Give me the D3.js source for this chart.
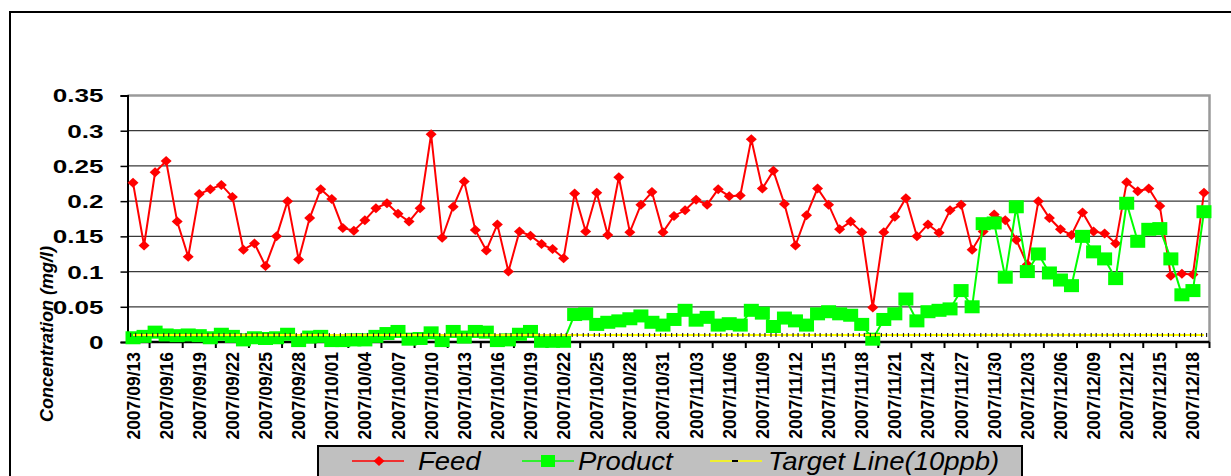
<!DOCTYPE html>
<html>
<head>
<meta charset="utf-8">
<script src="https://cdn.jsdelivr.net/npm/d3@7"></script>
<style>
  html, body { margin: 0; padding: 0; background: #fff; }
  svg { display: block; font-family: Arial, "Liberation Sans", sans-serif; }
</style>
</head>
<body>
<svg id="chart" width="1231" height="476"></svg>
<script>
// daily sample dates
const dates = [
  "2007/09/13","2007/09/14","2007/09/15","2007/09/16","2007/09/17","2007/09/18","2007/09/19","2007/09/20","2007/09/21","2007/09/22",
  "2007/09/23","2007/09/24","2007/09/25","2007/09/26","2007/09/27","2007/09/28","2007/09/29","2007/09/30","2007/10/01","2007/10/02",
  "2007/10/03","2007/10/04","2007/10/05","2007/10/06","2007/10/07","2007/10/08","2007/10/09","2007/10/10","2007/10/11","2007/10/12",
  "2007/10/13","2007/10/14","2007/10/15","2007/10/16","2007/10/17","2007/10/18","2007/10/19","2007/10/20","2007/10/21","2007/10/22",
  "2007/10/23","2007/10/24","2007/10/25","2007/10/26","2007/10/27","2007/10/28","2007/10/29","2007/10/30","2007/10/31","2007/11/01",
  "2007/11/02","2007/11/03","2007/11/04","2007/11/05","2007/11/06","2007/11/07","2007/11/08","2007/11/09","2007/11/10","2007/11/11",
  "2007/11/12","2007/11/13","2007/11/14","2007/11/15","2007/11/16","2007/11/17","2007/11/18","2007/11/19","2007/11/20","2007/11/21",
  "2007/11/22","2007/11/23","2007/11/24","2007/11/25","2007/11/26","2007/11/27","2007/11/28","2007/11/29","2007/11/30","2007/12/01",
  "2007/12/02","2007/12/03","2007/12/04","2007/12/05","2007/12/06","2007/12/07","2007/12/08","2007/12/09","2007/12/10","2007/12/11",
  "2007/12/12","2007/12/13","2007/12/14","2007/12/15","2007/12/16","2007/12/17","2007/12/18","2007/12/19"
];

const feed = [
  0.226,0.137,0.241,0.257,0.171,0.121,0.210,0.217,0.223,0.206,
  0.131,0.140,0.108,0.150,0.200,0.117,0.176,0.217,0.203,0.162,
  0.158,0.173,0.190,0.197,0.182,0.171,0.190,0.295,0.148,0.192,
  0.228,0.159,0.130,0.167,0.100,0.157,0.151,0.139,0.132,0.119,
  0.211,0.157,0.212,0.152,0.234,0.156,0.195,0.213,0.156,0.179,
  0.187,0.202,0.195,0.217,0.207,0.208,0.288,0.218,0.243,0.196,
  0.137,0.180,0.218,0.195,0.160,0.171,0.156,0.049,0.156,0.178,
  0.204,0.150,0.167,0.155,0.187,0.195,0.131,0.157,0.181,0.173,
  0.145,0.110,0.200,0.176,0.160,0.152,0.184,0.157,0.154,0.140,
  0.227,0.214,0.218,0.193,0.094,0.097,0.096,0.212
];

const product = [
  0.006,0.008,0.014,0.010,0.009,0.010,0.009,0.006,0.011,0.008,
  0.003,0.006,0.005,0.006,0.011,0.002,0.007,0.008,0.002,0.002,
  0.003,0.003,0.008,0.012,0.015,0.004,0.005,0.013,0.002,0.015,
  0.007,0.015,0.014,0.002,0.003,0.011,0.015,0.001,0.001,0.001,
  0.039,0.040,0.025,0.028,0.030,0.033,0.037,0.028,0.024,0.032,
  0.045,0.031,0.035,0.024,0.026,0.024,0.045,0.041,0.022,0.034,
  0.030,0.024,0.040,0.043,0.040,0.038,0.025,0.004,0.032,0.040,
  0.061,0.030,0.043,0.045,0.047,0.073,0.050,0.168,0.169,0.092,
  0.192,0.100,0.125,0.098,0.088,0.080,0.150,0.128,0.118,0.090,
  0.197,0.143,0.160,0.161,0.118,0.067,0.073,0.185
];

const target = dates.map(() => 0.01);   // 10 ppb target line

const yTicks = [0, 0.05, 0.1, 0.15, 0.2, 0.25, 0.3, 0.35];
const yTickLabels = ["0", "0.05", "0.1", "0.15", "0.2", "0.25", "0.3", "0.35"];
const legendNames = ["Feed", "Product", "Target Line(10ppb)"];

const svg = d3.select("#chart");

// outer chart frame
svg.append("path")
  .attr("d", "M10,480 L10,12 L1240,12")
  .attr("fill", "none").attr("stroke", "#000").attr("stroke-width", 2);

const plot = { left: 127.5, right: 1209.5, top: 95.5, bottom: 342 };

const x = d3.scaleBand()
  .domain(d3.range(dates.length))
  .range([plot.left, plot.right]);
const cx = i => x(i) + x.bandwidth() / 2;

const y = d3.scaleLinear()
  .domain([0, 0.35])
  .range([plot.bottom, plot.top]);

// gridlines
svg.append("g")
  .selectAll("line")
  .data(yTicks.filter(d => d > 0 && d < 0.35))
  .enter()
  .append("line")
    .attr("x1", plot.left).attr("x2", plot.right)
    .attr("y1", d => y(d)).attr("y2", d => y(d))
    .attr("stroke", "#3a3a3a").attr("stroke-width", 1.2);

// plot area border (top + right, grey)
svg.append("path")
  .attr("d", `M${plot.left},${y(0.35)} L${plot.right},${y(0.35)} L${plot.right},${plot.bottom}`)
  .attr("fill", "none").attr("stroke", "#9a9a9a").attr("stroke-width", 2.5);

// Y axis
const yAxis = svg.append("g")
  .attr("transform", `translate(${plot.left},0)`)
  .call(d3.axisLeft(y).tickValues(yTicks).tickSize(7).tickFormat((d, i) => yTickLabels[i]));
yAxis.select(".domain").attr("stroke", "#000").attr("stroke-width", 2);
yAxis.selectAll(".tick line").attr("stroke", "#000").attr("stroke-width", 1.5);
yAxis.selectAll(".tick text").remove();
yAxis.selectAll(".tick")
  .append("text")
    .attr("transform", "translate(-24,0) scale(1.45,1)")
    .attr("text-anchor", "end")
    .attr("dy", "0.36em")
    .attr("fill", "#000")
    .style("font-size", "18px")
    .style("font-weight", "bold")
    .text((d, i) => yTickLabels[i]);

// X axis: ticks between categories every 3 days, labels every 3 days
const labelIdx = d3.range(0, dates.length, 3);
const xAxis = svg.append("g")
  .attr("transform", `translate(0,${plot.bottom})`);
xAxis.append("line")
  .attr("x1", plot.left).attr("x2", plot.right)
  .attr("stroke", "#000").attr("stroke-width", 2.5);
xAxis.selectAll("line.tk")
  .data(labelIdx)
  .enter()
  .append("line")
    .attr("class", "tk")
    .attr("x1", i => x(i) + x.step() * 2)
    .attr("x2", i => x(i) + x.step() * 2)
    .attr("y1", 0).attr("y2", 6)
    .attr("stroke", "#000").attr("stroke-width", 2);
xAxis.selectAll("text")
  .data(labelIdx)
  .enter()
  .append("text")
    .attr("transform", i => `translate(${cx(i) + 6.5},10) rotate(-90)`)
    .attr("text-anchor", "end")
    .style("font-size", "17.5px")
    .style("font-weight", "bold")
    .text(i => dates[i]);

// Y axis title
svg.append("text")
  .attr("transform", "translate(53,334) rotate(-90)")
  .attr("text-anchor", "middle")
  .style("font-size", "18px")
  .style("font-weight", "bold")
  .style("font-style", "italic")
  .text("Concentration (mg/l)");

// Feed series
const line = d3.line().x((d, i) => cx(i)).y(d => y(d));
svg.append("path")
  .datum(feed)
  .attr("d", line)
  .attr("fill", "none").attr("stroke", "#ff0000").attr("stroke-width", 2);
const diamond = "M0,-5 L5.5,0 L0,5 L-5.5,0 Z";
svg.append("g")
  .selectAll("path")
  .data(feed)
  .enter()
  .append("path")
    .attr("transform", (d, i) => `translate(${cx(i)},${y(d)})`)
    .attr("d", diamond)
    .attr("fill", "#ff0000");

// Product series
svg.append("path")
  .datum(product)
  .attr("d", line)
  .attr("fill", "none").attr("stroke", "#00ff00").attr("stroke-width", 2);
svg.append("g")
  .selectAll("rect")
  .data(product)
  .enter()
  .append("rect")
    .attr("x", (d, i) => cx(i) - 7.5)
    .attr("y", d => y(d) - 6.5)
    .attr("width", 15).attr("height", 13)
    .attr("fill", "#00ff00");

// Target line with small dash markers
svg.append("path")
  .datum(target)
  .attr("d", line)
  .attr("fill", "none").attr("stroke", "#ffff00").attr("stroke-width", 2);
const tg = svg.append("g");
[-3, 2].forEach(off => {
  tg.append("g")
    .selectAll("rect")
    .data(target)
    .enter()
    .append("rect")
      .attr("x", (d, i) => cx(i) + off)
      .attr("y", d => y(d) - 2)
      .attr("width", 1.2).attr("height", 4)
      .attr("fill", "#222");
});

// Legend
const lg = svg.append("g");
lg.append("rect")
  .attr("x", 318).attr("y", 446).attr("width", 704).attr("height", 40)
  .attr("fill", "#c0c0c0").attr("stroke", "#000").attr("stroke-width", 2);
const legendX = [352, 522, 710];
const legendColors = ["#ff0000", "#00ff00", "#ffff00"];
legendNames.forEach((name, k) => {
  const g = lg.append("g").attr("transform", `translate(${legendX[k]},461)`);
  g.append("line").attr("x1", 0).attr("x2", 52)
    .attr("stroke", legendColors[k]).attr("stroke-width", 1.5);
  if (k === 0) g.append("path").attr("d", diamond).attr("transform", "translate(27,0)").attr("fill", "#ff0000");
  if (k === 1) g.append("rect").attr("x", 19).attr("y", -6).attr("width", 14).attr("height", 12).attr("fill", "#00ff00");
  if (k === 2) g.append("rect").attr("x", 22).attr("y", -1).attr("width", 6).attr("height", 2).attr("fill", "#000");
  g.append("text")
    .attr("transform", `translate(${k === 2 ? 58 : (k === 1 ? 56 : 66)},9) scale(1.1,1)`)
    .style("font-size", "25px")
    .style("font-style", "italic")
    .text(name);
});
</script>
</body>
</html>
